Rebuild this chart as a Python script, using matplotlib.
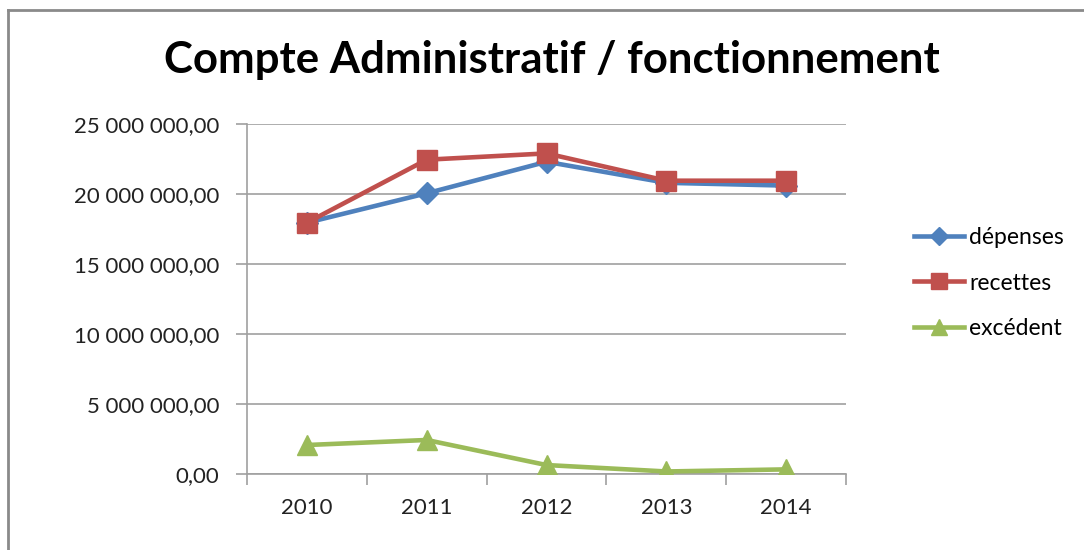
import matplotlib
matplotlib.use("Agg")
import matplotlib.pyplot as plt
from matplotlib.ticker import FuncFormatter, FixedLocator
from matplotlib.lines import Line2D

years = ["2010", "2011", "2012", "2013", "2014"]
depenses = [17950000, 20050000, 22300000, 20800000, 20600000]
recettes = [17950000, 22450000, 22900000, 20950000, 20950000]
excedent = [2070000, 2430000, 640000, 180000, 330000]
yticks = [0, 5000000, 10000000, 15000000, 20000000, 25000000]

plt.rcParams['font.family'] = ['Lato', 'DejaVu Sans']

fig = plt.figure(figsize=(10.84, 5.5), dpi=100)
ax = fig.add_axes([247/1084, 1-474/550, (846-247)/1084, (474-124)/550])

x = list(range(len(years)))
blue, red, green = "#4F81BD", "#C0504D", "#9BBB59"
ax.plot(x, depenses, color=blue, lw=3.3, marker="D", ms=11, label="dépenses", zorder=3)
ax.plot(x, recettes, color=red, lw=3.3, marker="s", ms=15, label="recettes", zorder=4)
ax.plot(x, excedent, color=green, lw=3.3, marker="^", ms=15, label="excédent", zorder=3)

ax.set_xlim(-0.5, len(years) - 0.5)
ax.set_ylim(0, 25000000)

def fr(v, pos):
    s = f"{v:,.2f}"
    return s.replace(",", " ").replace(".", ",")

ax.yaxis.set_major_locator(FixedLocator(yticks))
ax.yaxis.set_major_formatter(FuncFormatter(fr))
ax.set_xticks([i - 0.5 for i in range(len(years) + 1)])
ax.set_xticklabels([])
ax.set_xticks(x, minor=True)
ax.set_xticklabels(years, minor=True)
ax.tick_params(axis='x', which='minor', length=0, pad=17, labelsize=16, labelcolor="#222222")
ax.tick_params(axis='x', which='major', length=8, color="#a0a0a0", width=1.2)
ax.tick_params(axis='y', length=8, color="#a0a0a0", width=1.2, pad=12, labelsize=16, labelcolor="#222222")

ax.grid(axis='y', color="#a0a0a0", lw=1.2)
ax.set_axisbelow(True)
for s in ["top", "right"]:
    ax.spines[s].set_visible(False)
for s in ["left", "bottom"]:
    ax.spines[s].set_color("#a0a0a0")
    ax.spines[s].set_linewidth(1.2)

fig.text(552/1084, 1-60/550, "Compte Administratif / fonctionnement", ha="center", va="center",
         fontsize=31.5, fontweight="bold")

handles = [
    Line2D([], [], color=blue, lw=3.3, marker="D", ms=9),
    Line2D([], [], color=red, lw=3.3, marker="s", ms=11),
    Line2D([], [], color=green, lw=3.3, marker="^", ms=11),
]
fig.legend(handles, ["dépenses", "recettes", "excédent"], loc="center left",
           bbox_to_anchor=(914/1084, 1-283/550), frameon=False, fontsize=16.5,
           handlelength=2.2, handletextpad=0.2, labelspacing=1.08, borderaxespad=0,
           borderpad=0)

# outer frame (top and left edges)
fig.add_artist(Line2D([8/1084, 1], [1-10/550, 1-10/550], transform=fig.transFigure, color="#8a8a8a", lw=2))
fig.add_artist(Line2D([8/1084, 8/1084], [0, 1-10/550], transform=fig.transFigure, color="#8a8a8a", lw=2))

fig.savefig("out.png", dpi=100, facecolor="white")
